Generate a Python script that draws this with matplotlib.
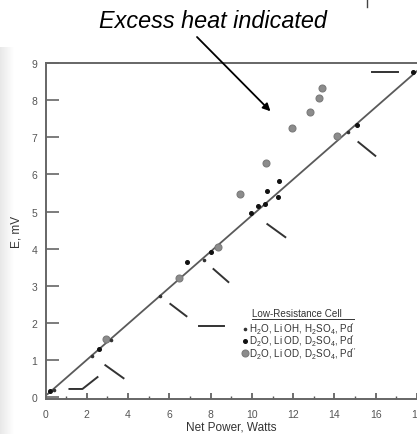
import matplotlib
matplotlib.use('Agg')
import matplotlib.pyplot as plt
import numpy as np
from matplotlib.lines import Line2D

plt.rcParams['font.family'] = ['Liberation Sans', 'DejaVu Sans']
plt.rcParams['mathtext.fontset'] = 'custom'
plt.rcParams['mathtext.rm'] = 'Liberation Sans'
plt.rcParams['mathtext.it'] = 'Liberation Sans:italic'

# H2O, Li OH, H2SO4, Pd'  (small dots)
h2o_x = [0.4, 2.27, 3.15, 5.57, 7.67, 14.67]
h2o_y = [0.18, 1.10, 1.55, 2.72, 3.69, 7.14]

# D2O, Li OD, D2SO4, Pd'  (black dots)
d2o_a_x = [0.2, 2.58, 6.85, 8.0, 9.98, 10.3, 10.65, 10.75, 11.33, 11.28, 15.1, 17.8]
d2o_a_y = [0.17, 1.31, 3.63, 3.90, 4.96, 5.15, 5.20, 5.55, 5.82, 5.39, 7.33, 8.75]

# D2O, Li OD, D2SO4, Pd''  (grey circles)
d2o_b_x = [2.95, 6.46, 8.35, 9.4, 10.7, 11.96, 12.83, 13.27, 13.4, 14.14]
d2o_b_y = [1.56, 3.20, 4.04, 5.47, 6.31, 7.25, 7.68, 8.06, 8.33, 7.03]

# straight reference line
line_x = [0.1, 18.2]
line_y = [0.08, 8.88]

# stray dash marks left over in the scan
dash_segs = [
    ([1.16, 1.79, 2.52], [0.22, 0.22, 0.54]),
    ([2.90, 3.78], [0.86, 0.51]),
    ([6.05, 6.83], [2.51, 2.18]),
    ([7.46, 8.67], [1.91, 1.91]),
    ([8.14, 8.86], [3.45, 3.10]),
    ([10.75, 11.62], [4.66, 4.31]),
    ([15.16, 15.98], [6.87, 6.50]),
    ([15.84, 17.10], [8.76, 8.76]),
]

xticks = list(range(0, 19, 2))
yticks = list(range(0, 10))

W, H = 417, 435
fig = plt.figure(figsize=(W / 100, H / 100), dpi=100)

# faint scan shading on the left edge
bg = fig.add_axes([0, 0, 1, 1 - 48 / H], zorder=-10)
grad = np.linspace(0.91, 1.0, 15)
grad = np.concatenate([grad, np.ones(402)])
bg.imshow(np.tile(grad, (10, 1)), cmap='gray', vmin=0, vmax=1,
          aspect='auto', extent=[0, 1, 0, 1])
bg.axis('off')

ax = fig.add_axes([45.5 / W, 35 / H, (W - 45.5) / W, (400 - 64) / H])
ax.patch.set_alpha(0)

gray = '#5a5a5a'
ax.plot(line_x, line_y, color=gray, lw=1.3, zorder=2)
for sx, sy in dash_segs:
    ax.plot(sx, sy, color='#333333', lw=1.4, zorder=2)

ax.plot(d2o_b_x, d2o_b_y, 'o', ms=5, mfc='#8c8c8c', mec='#7a7a7a', mew=0.8,
        zorder=3, label="D$_2$O, Li OD, D$_2$SO$_4$, Pd$^{\\prime\\prime}$")
ax.plot(d2o_a_x, d2o_a_y, 'o', ms=2.6, color='#111111', zorder=4,
        label="D$_2$O, Li OD, D$_2$SO$_4$, Pd$^{\\prime}$")
ax.plot(h2o_x, h2o_y, 'o', ms=1.6, color='#333333', zorder=4,
        label="H$_2$O, Li OH, H$_2$SO$_4$, Pd$^{\\prime}$")

ax.set_xlim(0, 18)
ax.set_ylim(-0.05, 9.0)
ax.set_xticks(xticks)
ax.set_xticks(range(1, 18, 2), minor=True)
ax.set_yticks(yticks)

for s in ['left', 'bottom', 'top']:
    ax.spines[s].set_color('#666666')
    ax.spines[s].set_linewidth(1.4)
ax.spines['right'].set_visible(False)

ax.tick_params(axis='x', which='major', direction='in', length=4, width=1.2,
               color='#555555', labelsize=7.5, labelcolor='#555555', pad=7)
ax.tick_params(axis='x', which='minor', direction='in', length=2, width=1.0,
               color='#555555')
ax.tick_params(axis='y', direction='in', length=9, width=1.2,
               color='#666666', labelsize=7.5, labelcolor='#555555', pad=6)

ax.set_xlabel('Net Power, Watts', fontsize=8.5, color='#333333', labelpad=1)
ax.set_ylabel('E, mV', fontsize=8.5, color='#333333', labelpad=6)

# legend
handles, labels = ax.get_legend_handles_labels()
order = [2, 1, 0]
leg = ax.legend([handles[i] for i in order], [labels[i] for i in order],
                loc='upper left', bbox_to_anchor=(0.53, 0.234),
                frameon=False, fontsize=7.1, handlelength=0.5,
                handletextpad=0.2, labelspacing=-0.3, borderaxespad=0,
                borderpad=0, labelcolor='#333333')
fig.text(252 / W, 1 - 314 / H, 'Low-Resistance Cell', fontsize=7.1,
         color='#333333', va='center', ha='left')
fig.add_artist(Line2D([252 / W, 354 / W], [1 - 320 / H, 1 - 320 / H],
                      color='#333333', lw=0.7))

# annotation
fig.text(213 / W, 1 - 22 / H, 'Excess heat indicated', fontsize=16.8,
         style='italic', ha='center', va='center', color='black')
ax.annotate('', xy=(10.9, 7.7), xytext=(197, H - 38),
            textcoords='figure pixels',
            arrowprops=dict(arrowstyle='-|>', color='black', lw=1.3,
                            mutation_scale=11, shrinkA=0, shrinkB=0))

fig.add_artist(Line2D([367 / W, 367 / W], [1, 1 - 8 / H], color='#444444', lw=1))

fig.savefig('out.png', dpi=100)
